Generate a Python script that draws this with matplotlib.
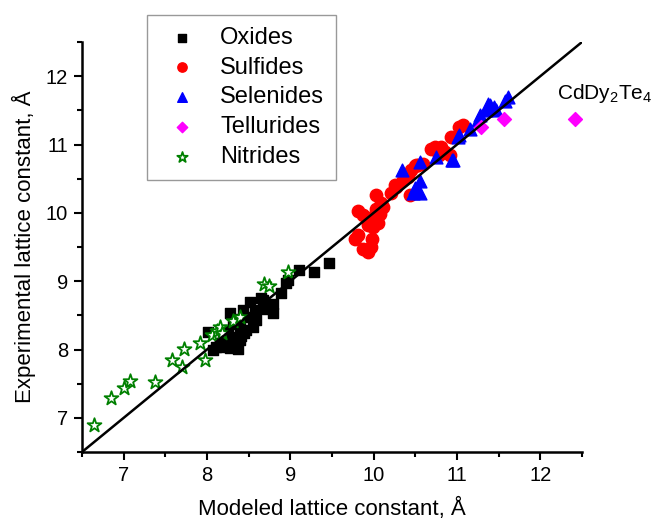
import numpy as np
import matplotlib.pyplot as plt

plt.rcParams['font.family'] = ['Liberation Sans', 'DejaVu Sans']
plt.rcParams['mathtext.fontset'] = 'custom'
plt.rcParams['mathtext.rm'] = 'Liberation Sans'
plt.rcParams['mathtext.it'] = 'Liberation Sans:italic'

# Dados (Å)
oxides_x = [8.01, 8.07, 8.11, 8.19, 8.27, 8.33, 8.39, 8.45, 8.51, 8.57, 8.65, 8.69, 8.79,
            8.79, 8.89, 8.95, 8.31, 8.39, 8.47, 8.59, 8.43, 8.25, 8.19, 8.30, 8.37, 8.27,
            8.47, 8.55, 8.23, 8.97, 9.10, 9.29, 9.46, 8.67, 8.15, 8.35, 8.41]
oxides_y = [8.26, 8.00, 8.03, 8.04, 8.53, 8.07, 8.14, 8.24, 8.70, 8.58, 8.75, 8.60, 8.67,
            8.53, 8.82, 8.98, 8.38, 8.33, 8.48, 8.43, 8.58, 8.29, 8.19, 8.19, 8.01, 8.02,
            8.29, 8.33, 8.06, 9.01, 9.17, 9.13, 9.27, 8.72, 8.10, 8.45, 8.20]

sulfides_x = [9.77, 9.81, 9.87, 9.93, 9.97, 9.98, 9.81, 9.87, 9.93, 9.99, 10.05, 10.07, 10.11,
              10.09, 9.99, 9.93, 10.03, 10.21, 10.27, 10.43, 10.39, 10.45, 10.49, 10.53, 10.25,
              10.41, 10.51, 10.59, 10.69, 10.73, 10.81, 10.85, 10.91, 10.93, 11.03, 11.07,
              10.79, 10.35, 10.03]
sulfides_y = [9.61, 9.68, 9.47, 9.43, 9.50, 9.61, 10.02, 9.97, 9.92, 9.90, 9.85, 9.99, 10.09,
              10.14, 9.80, 9.82, 10.26, 10.29, 10.38, 10.26, 10.55, 10.63, 10.68, 10.70, 10.41,
              10.53, 10.70, 10.72, 10.94, 10.97, 10.97, 10.89, 10.85, 11.11, 11.26, 11.29,
              10.85, 10.48, 10.05]

selenides_x = [10.34, 10.56, 10.55, 10.47, 10.55, 10.49, 10.75, 10.94, 11.02, 11.15, 11.27,
               11.35, 11.45, 11.39, 11.25, 11.37, 11.47, 11.57, 11.61, 11.01, 10.95]
selenides_y = [10.63, 10.75, 10.46, 10.29, 10.29, 10.36, 10.81, 10.78, 11.14, 11.22, 11.43,
               11.50, 11.55, 11.58, 11.36, 11.60, 11.50, 11.63, 11.70, 11.11, 10.77]

tellurides_x = [11.29, 11.56, 12.42]
tellurides_y = [11.26, 11.38, 11.38]

nitrides_x = [6.64, 6.85, 7.00, 7.08, 7.37, 7.58, 7.70, 7.72, 7.91, 7.97, 8.06, 8.12, 8.15,
              8.18, 8.31, 8.40, 8.68, 8.74, 8.97]
nitrides_y = [6.90, 7.29, 7.43, 7.54, 7.52, 7.85, 7.75, 8.01, 8.09, 7.85, 8.21, 8.27, 8.33,
              8.24, 8.41, 8.47, 8.96, 8.93, 9.14]

lims = [6.5, 12.5]

fig = plt.figure(figsize=(6.52, 5.19), dpi=100)
ax = fig.add_axes([82/652, 1 - 452/519, 500/652, 410/519])

ax.scatter(oxides_x, oxides_y, marker='s', s=55, color='black', label='Oxides', zorder=2)
ax.scatter(sulfides_x, sulfides_y, marker='o', s=80, color='red', label='Sulfides', zorder=2)
ax.scatter(selenides_x, selenides_y, marker='^', s=85, color='blue', label='Selenides', zorder=2)
ax.scatter(tellurides_x, tellurides_y, marker='D', s=50, color='magenta', label='Tellurides', zorder=2)
ax.scatter(nitrides_x, nitrides_y, marker='*', s=110, facecolor='white', edgecolor='green',
           linewidth=1.3, label='Nitrides', zorder=3)

# linha y = x
ax.plot(lims, lims, color='black', linewidth=1.8, zorder=4)

ax.text(12.2, 11.74, r'CdDy$_2$Te$_4$', fontsize=15, va='center', ha='left', clip_on=False)

ax.set_xlim(lims)
ax.set_ylim(lims)
ax.set_xticks([7, 8, 9, 10, 11, 12])
ax.set_yticks([7, 8, 9, 10, 11, 12])
ax.set_xticks(np.arange(6.5, 12.6, 0.5), minor=True)
ax.set_yticks(np.arange(6.5, 12.6, 0.5), minor=True)
ax.tick_params(which='major', length=6, width=1.5, labelsize=14.5, direction='out', pad=4)
ax.tick_params(which='minor', length=3.5, width=1.5, direction='out')
for s in ['top', 'right']:
    ax.spines[s].set_visible(False)
for s in ['left', 'bottom']:
    ax.spines[s].set_linewidth(1.8)

ax.set_xlabel('Modeled lattice constant, Å', fontsize=16, labelpad=9)
ax.set_ylabel('Experimental lattice constant, Å', fontsize=16, labelpad=7)

leg = ax.legend(loc='upper left', bbox_to_anchor=(147/652, 1 - 15/519),
                bbox_transform=fig.transFigure, fontsize=17, frameon=True, fancybox=False,
                edgecolor='gray', markerscale=0.75, labelspacing=0.33, handletextpad=0.6,
                borderpad=0.5, borderaxespad=0)
leg.get_frame().set_linewidth(1.0)

plt.savefig('out.png', dpi=100)
